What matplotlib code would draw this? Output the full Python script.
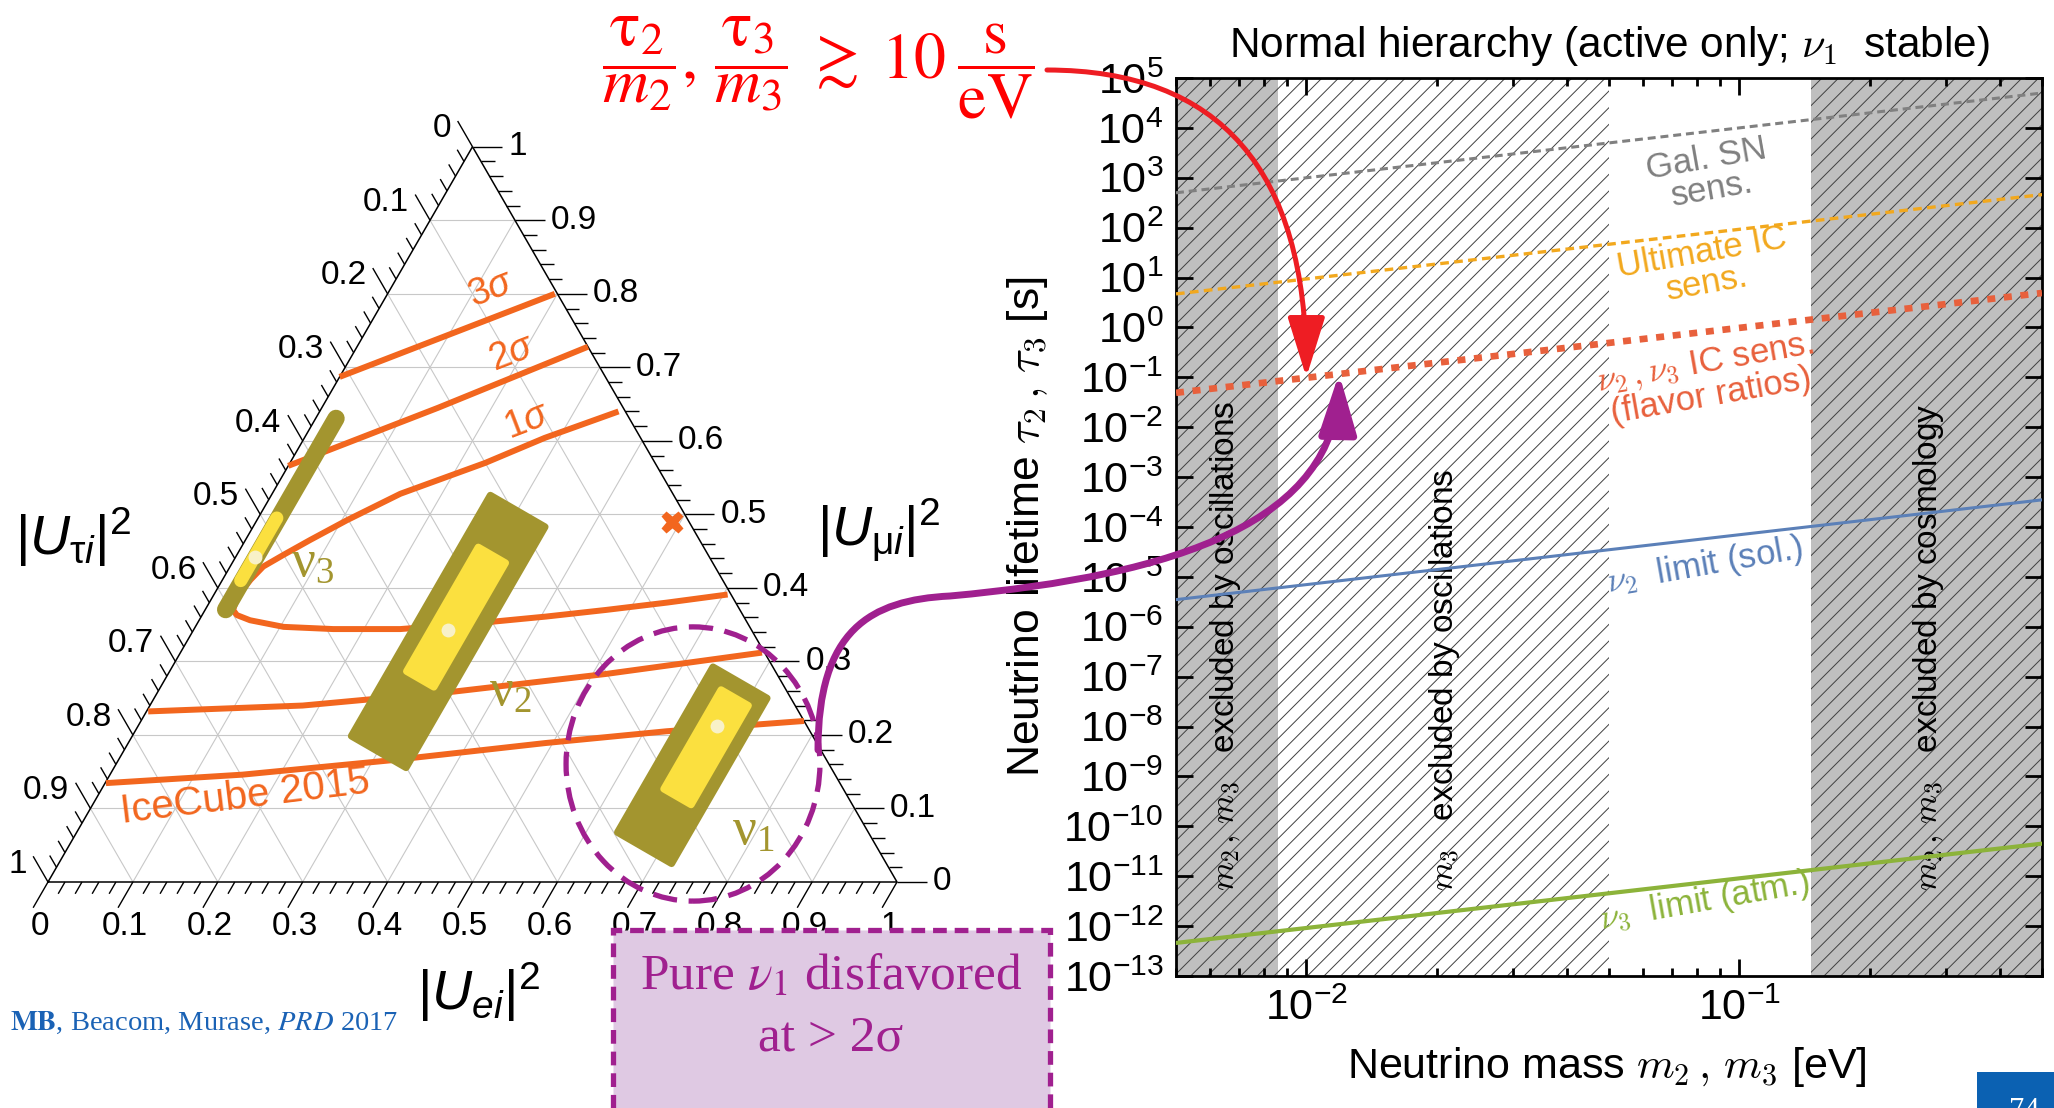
import numpy as np
import matplotlib
matplotlib.use("Agg")
import matplotlib.pyplot as plt
from matplotlib.patches import Polygon, Ellipse, FancyArrowPatch, Rectangle
from matplotlib.path import Path
from matplotlib.transforms import IdentityTransform
from matplotlib.ticker import LogLocator, NullLocator, NullFormatter

W, H, DPI = 2054, 1108, 100

plt.rcParams["font.family"] = ["Liberation Sans", "DejaVu Sans"]
plt.rcParams["mathtext.fontset"] = "custom"
plt.rcParams["mathtext.rm"] = "Liberation Sans"
plt.rcParams["mathtext.it"] = "Liberation Sans:italic"
plt.rcParams["mathtext.bf"] = "Liberation Sans:bold"
plt.rcParams["axes.unicode_minus"] = False
plt.rcParams["hatch.linewidth"] = 0.7

# ---------------- right panel data: lifetime vs. mass ----------------
mass_range = [5e-3, 0.5]          # eV
tau_range = [1e-13, 1e5]          # s
m_ends = [5e-3, 0.5]
tau_gal_sn = [5e2, 5e4]
tau_ultimate_ic = [4.7, 4.6e2]
tau_ic_flavor = [4.9e-2, 4.9]
tau_nu2_solar = [3.5e-6, 3.5e-4]
tau_nu3_atm = [4.6e-13, 4.5e-11]
m_min_osc_23 = 8.6e-3             # m2, m3 excluded below
m_min_osc_3 = 0.05                # m3 excluded below
m_max_cosmo = 0.146               # m2, m3 excluded above

# ---------------- ternary data: flavor composition (f_e, f_mu) ----------------
cl_3sig_up_e = [0.0, 0.197]
cl_3sig_up_mu = [0.687, 0.800]
cl_2sig_up_e = [0.0, 0.137, 0.272]
cl_2sig_up_mu = [0.566, 0.645, 0.728]
cl_1sig_e = [0.352, 0.283, 0.230, 0.151, 0.106, 0.076, 0.055, 0.039, 0.033, 0.030,
             0.031, 0.033, 0.041, 0.060, 0.104, 0.164, 0.243, 0.338, 0.406, 0.472,
             0.539, 0.605]
cl_1sig_mu = [0.640, 0.604, 0.570, 0.528, 0.492, 0.465, 0.445, 0.429, 0.411, 0.393,
              0.379, 0.370, 0.363, 0.356, 0.347, 0.344, 0.344, 0.353, 0.361, 0.370,
              0.380, 0.391]
cl_2sig_lo_e = [0.002, 0.180, 0.349, 0.516, 0.685]
cl_2sig_lo_mu = [0.232, 0.240, 0.259, 0.283, 0.312]
cl_3sig_lo_e = [0.001, 0.156, 0.325, 0.4915, 0.626, 0.781]
cl_3sig_lo_mu = [0.1345, 0.146, 0.166, 0.189, 0.205, 0.219]

# mass-eigenstate regions: |U_ei|^2 range and (|U_mui|^2 - |U_taui|^2) range
nu1_outer = dict(e=[0.637, 0.722], d=[-0.228, 0.222])
nu1_inner = dict(e=[0.662, 0.705], d=[-0.085, 0.185])
nu1_best = (0.682, 0.107)
nu2_outer = dict(e=[0.258, 0.344], d=[-0.345, 0.310])
nu2_inner = dict(e=[0.279, 0.322], d=[-0.148, 0.190])
nu2_best = (0.300, -0.014)
nu3_outer = dict(e=[0.024, 0.024], d=[-0.235, 0.285])
nu3_inner = dict(e=[0.022, 0.022], d=[-0.158, 0.012])
nu3_best = (0.0226, -0.093)
flavor_point = (0.49, 0.49)       # (f_e, f_mu) of the cross marker
tern_labels = ["0", "0.1", "0.2", "0.3", "0.4", "0.5", "0.6", "0.7", "0.8", "0.9", "1"]

OLIVE = "#a3952f"
YELLOW = "#fbe03f"
DOT = "#f8f1c8"
ORANGE = "#f2661e"
PURPLE = "#a0208f"
S3 = np.sqrt(3) / 2


def fig_box(l, t, r, b):
    return [l / W, 1 - b / H, (r - l) / W, (b - t) / H]


def fpos(x, y):
    return (x / W, 1 - y / H)


def tern(e, mu):
    e = np.asarray(e, float)
    mu = np.asarray(mu, float)
    return e + mu / 2, mu * S3


def ed_to_xy(e, d):
    e = np.asarray(e, float)
    d = np.asarray(d, float)
    mu = (1 - e + d) / 2
    return tern(e, mu)


def region_xy(reg):
    e = np.array([reg["e"][0], reg["e"][1], reg["e"][1], reg["e"][0]])
    d = np.array([reg["d"][1], reg["d"][1], reg["d"][0], reg["d"][0]])
    x, y = ed_to_xy(e, d)
    return np.column_stack([x, y])


fig = plt.figure(figsize=(W / DPI, H / DPI), dpi=DPI)
fig.patch.set_facecolor("white")

# ======================= ternary panel =======================
TX0, TY0, TS = 48, 882, 849
L, T, R, B = 0, 90, 1040, 1060
ax_t = fig.add_axes(fig_box(L, T, R, B))
ax_t.set_xlim((L - TX0) / TS, (R - TX0) / TS)
ax_t.set_ylim((TY0 - B) / TS, (TY0 - T) / TS)
ax_t.axis("off")

grid_kw = dict(color="#c8c8c8", lw=0.8, zorder=1)
for v in np.arange(1, 10) / 10:
    ax_t.plot(*tern([v, v], [0, 1 - v]), **grid_kw)
    ax_t.plot(*tern([0, 1 - v], [v, v]), **grid_kw)
    ax_t.plot(*tern([1 - v, 0], [0, 1 - v]), **grid_kw)

ax_t.plot([0, 1, 0.5, 0], [0, 0, S3, 0], color="black", lw=1.1, zorder=2)

for k in range(51):
    v = k / 50
    major = k % 5 == 0
    ln = 0.035 if major else 0.016
    tk = dict(color="black", lw=1.0, zorder=2, solid_capstyle="butt")
    # bottom (f_e)
    ax_t.plot([v, v - 0.5 * ln], [0, -S3 * ln], **tk)
    # right (f_mu)
    xr, yr = 1 - v / 2, v * S3
    ax_t.plot([xr, xr + ln], [yr, yr], **tk)
    # left (f_tau)
    xl, yl = (1 - v) / 2, (1 - v) * S3
    ax_t.plot([xl, xl - 0.5 * ln], [yl, yl + S3 * ln], **tk)
    if major:
        lab = tern_labels[k // 5]
        ax_t.text(v - 0.009, -0.053, lab, ha="center", va="center", fontsize=24)
        ax_t.text(xr + 0.042, yr, lab, ha="left", va="center", fontsize=24)
        ax_t.text(xl - 0.025, yl + 0.021, lab, ha="right", va="center", fontsize=24)

ax_t.text(0.0294, 0.4064, r"$|U_{\mathrm{\tau}i}|^2$", ha="center", va="center", fontsize=40)
ax_t.text(0.9788, 0.4146, r"$|U_{\mathrm{\mu}i}|^2$", ha="center", va="center", fontsize=40)
ax_t.text(0.5065, -0.1296, r"$|U_{ei}|^2$", ha="center", va="center", fontsize=40)

# IceCube 2015 confidence contours
cl_kw = dict(color=ORANGE, lw=4.3, zorder=3, solid_capstyle="butt", solid_joinstyle="round")
ax_t.plot(*tern(cl_3sig_up_e, cl_3sig_up_mu), **cl_kw)
ax_t.plot(*tern(cl_2sig_up_e, cl_2sig_up_mu), **cl_kw)
ax_t.plot(*tern(cl_1sig_e, cl_1sig_mu), **cl_kw)
ax_t.plot(*tern(cl_2sig_lo_e, cl_2sig_lo_mu), **cl_kw)
ax_t.plot(*tern(cl_3sig_lo_e, cl_3sig_lo_mu), **cl_kw)
sig_kw = dict(color=ORANGE, fontsize=27, rotation=21, ha="center", va="center")
ax_t.text(0.5218, 0.6985, r"3$\sigma$", **sig_kw)
ax_t.text(0.5465, 0.6231, r"2$\sigma$", **sig_kw)
ax_t.text(0.5642, 0.5430, r"1$\sigma$", **sig_kw)
ax_t.text(0.2320, 0.1001, "IceCube 2015", color=ORANGE, fontsize=29, rotation=7,
          ha="center", va="center")

# mass-eigenstate flavor regions
for outer, inner, best in [(nu1_outer, nu1_inner, nu1_best), (nu2_outer, nu2_inner, nu2_best)]:
    ax_t.add_patch(Polygon(region_xy(outer), closed=True, facecolor=OLIVE, edgecolor=OLIVE,
                           lw=5, joinstyle="round", zorder=5))
    ax_t.add_patch(Polygon(region_xy(inner), closed=True, facecolor=YELLOW, edgecolor=YELLOW,
                           lw=5, joinstyle="round", zorder=6))
    ax_t.plot(*ed_to_xy(*best), "o", ms=10, color=DOT, mec="none", zorder=7)

ax_t.plot(*ed_to_xy(nu3_outer["e"], nu3_outer["d"]), color=OLIVE, lw=12.5,
          solid_capstyle="round", zorder=5)
ax_t.plot(*ed_to_xy(nu3_inner["e"], nu3_inner["d"]), color=YELLOW, lw=9.5,
          solid_capstyle="round", zorder=6)
ax_t.plot(*ed_to_xy(*nu3_best), "o", ms=10, color=DOT, mec="none", zorder=7)

nu_kw = dict(color=OLIVE, fontsize=38, family="Liberation Serif", ha="center", va="center",
             zorder=8)
ax_t.text(0.312, 0.3757, r"$\mathregular{\nu_3}$", **nu_kw)
ax_t.text(0.5442, 0.2226, r"$\mathregular{\nu_2}$", **nu_kw)
ax_t.text(0.8304, 0.0589, r"$\mathregular{\nu_1}$", **nu_kw)

ax_t.plot(*tern(*flavor_point), marker="X", ms=16, color=ORANGE, mec="none", zorder=8)

ax_t.add_patch(Ellipse((0.7597, 0.139), 0.299, 0.323, fill=False, edgecolor=PURPLE,
                       lw=3.8, ls=(0, (4.6, 2.2)), zorder=9, clip_on=False))

# ======================= lifetime panel =======================
ax_r = fig.add_axes(fig_box(1176, 78, 2042, 976))
ax_r.set_xscale("log")
ax_r.set_yscale("log")
ax_r.set_xlim(mass_range)
ax_r.set_ylim(tau_range)

span_kw = dict(edgecolor="#404040", hatch="//", lw=0, zorder=0)
ax_r.axvspan(mass_range[0], m_min_osc_23, facecolor="#bfbfbf", **span_kw)
ax_r.axvspan(m_min_osc_23, m_min_osc_3, facecolor="white", **span_kw)
ax_r.axvspan(m_max_cosmo, mass_range[1], facecolor="#bfbfbf", **span_kw)

ax_r.plot(m_ends, tau_gal_sn, color="#808080", lw=2.2, ls=(0, (2.6, 1.6)), zorder=3)
ax_r.plot(m_ends, tau_ultimate_ic, color="#f2a81d", lw=2.4, ls=(0, (2.6, 1.6)), zorder=3)
ax_r.plot(m_ends, tau_ic_flavor, color="#e8603c", lw=4.8, ls=(0, (1.2, 1.3)), zorder=3)
ax_r.plot(m_ends, tau_nu2_solar, color="#5b80b8", lw=2.2, zorder=3)
ax_r.plot(m_ends, tau_nu3_atm, color="#8cb33a", lw=3.0, zorder=3)

ax_r.xaxis.set_major_locator(LogLocator(base=10, numticks=10))
ax_r.xaxis.set_minor_locator(LogLocator(base=10, subs=np.arange(2, 10), numticks=20))
ax_r.xaxis.set_minor_formatter(NullFormatter())
ax_r.yaxis.set_major_locator(LogLocator(base=10, numticks=40))
ax_r.yaxis.set_minor_locator(NullLocator())
ax_r.tick_params(which="both", direction="in", top=True, right=True, width=2, colors="black")
ax_r.tick_params(which="major", length=12, labelsize=31, pad=9)
ax_r.tick_params(which="minor", length=5.5)
for sp in ax_r.spines.values():
    sp.set_linewidth(2)

ax_r.text(0.5, 1.036, r"Normal hierarchy (active only; $\nu_1$  stable)", transform=ax_r.transAxes,
          ha="center", va="center", fontsize=30.5, math_fontfamily="cm")
ax_r.text(0.498, -0.101, r"Neutrino mass $m_2\,,\,m_3$ [eV]", transform=ax_r.transAxes,
          ha="center", va="center", fontsize=31, math_fontfamily="cm")
ax_r.text(-0.171, 0.5, r"Neutrino lifetime $\tau_2\,,\,\tau_3$ [s]", transform=ax_r.transAxes,
          ha="center", va="center", rotation=90, fontsize=32, math_fontfamily="cm")

reg_kw = dict(rotation=90, ha="center", va="bottom", fontsize=24, math_fontfamily="cm", zorder=1)
ax_r.text(6.5e-3, 10 ** -11.3, r"$m_2\,,\,m_3$   excluded by oscillations", **reg_kw)
ax_r.text(0.0208, 10 ** -11.3, r"$m_3$   excluded by oscillations", **reg_kw)
ax_r.text(0.274, 10 ** -11.3, r"$m_2\,,\,m_3$   excluded by cosmology", **reg_kw)

lab_kw = dict(rotation=10, ha="center", va="center", fontsize=25, math_fontfamily="cm",
              linespacing=0.92, zorder=4)
ax_r.text(0.0853, 1.2e3, "Gal. SN\nsens.", color="#808080", **lab_kw)
ax_r.text(0.0832, 15.5, "Ultimate IC\nsens.", color="#f2a81d", **lab_kw)
ax_r.text(0.0848, 0.089, r"$\nu_2\,,\nu_3$ IC sens." + "\n(flavor ratios)", color="#e8603c",
          **lab_kw)
ax_r.text(0.0833, 1.66e-5, r"$\nu_2$  limit (sol.)", color="#5b80b8", **lab_kw)
ax_r.text(0.0833, 3.2e-12, r"$\nu_3$  limit (atm.)", color="#8cb33a", **lab_kw)

# ======================= slide annotations =======================
fig.text(*fpos(818, 68),
         r"$\dfrac{\mathrm{\tau}_2}{m_2},\,\dfrac{\mathrm{\tau}_3}{m_3}\;\gtrsim\;10\;\dfrac{\mathrm{s}}{\mathrm{eV}}$",
         color="#ff0000", fontsize=46, math_fontfamily="stix", ha="center", va="center",
         zorder=12)

red_tip = ax_r.transData.transform((1e-2, 1e-1))
fig.add_artist(FancyArrowPatch((1047, H - 70), tuple(red_tip),
                               connectionstyle="angle3,angleA=0,angleB=90",
                               arrowstyle="-|>,head_length=37,head_width=11.5",
                               mutation_scale=1, lw=3.6, color="#ee1d23",
                               shrinkA=0, shrinkB=0, transform=IdentityTransform(),
                               zorder=12))

pur_tip = ax_r.transData.transform((0.0119, 0.119))
verts = [(818, H - 750), (818, H - 630), (870, H - 600), (950, H - 596),
         (1180, H - 575), (pur_tip[0] - 3, pur_tip[1] - 147), tuple(pur_tip)]
codes = [Path.MOVETO, Path.CURVE4, Path.CURVE4, Path.CURVE4,
         Path.CURVE4, Path.CURVE4, Path.CURVE4]
fig.add_artist(FancyArrowPatch(path=Path(verts, codes),
                               arrowstyle="-|>,head_length=37,head_width=11.5",
                               mutation_scale=1, lw=5, color=PURPLE,
                               transform=IdentityTransform(), zorder=12))

fig.add_artist(Rectangle(fpos(613, 1125), (1050 - 613) / W, (1125 - 930) / H,
                         transform=fig.transFigure, facecolor="#dfc9e3", edgecolor=PURPLE,
                         lw=3.8, ls=(0, (2.6, 1.5)), zorder=10))
fig.text(*fpos(831, 977), r"Pure $\nu_1$ disfavored", color=PURPLE, fontsize=37,
         family="Liberation Serif", math_fontfamily="stix", ha="center", va="center", zorder=11)
fig.text(*fpos(831, 1038), "at > 2σ", color=PURPLE, fontsize=37,
         family="Liberation Serif", ha="center", va="center", zorder=11)

fig.text(*fpos(10, 1023), r"$\mathbf{MB}$, Beacom, Murase, $\mathit{PRD}$ 2017",
         color="#1a62b5", fontsize=20.5, family="Liberation Serif", math_fontfamily="stix",
         ha="left", va="center", zorder=11)

fig.add_artist(Rectangle(fpos(1977, 1110), (W - 1977) / W, (1110 - 1072) / H,
                         transform=fig.transFigure, facecolor="#0b61b2", edgecolor="none",
                         zorder=10))
fig.text(*fpos(2024, 1097), "74", color="white", fontsize=22, family="Liberation Serif",
         ha="center", va="top", zorder=11)

fig.savefig("out.png", dpi=DPI)
